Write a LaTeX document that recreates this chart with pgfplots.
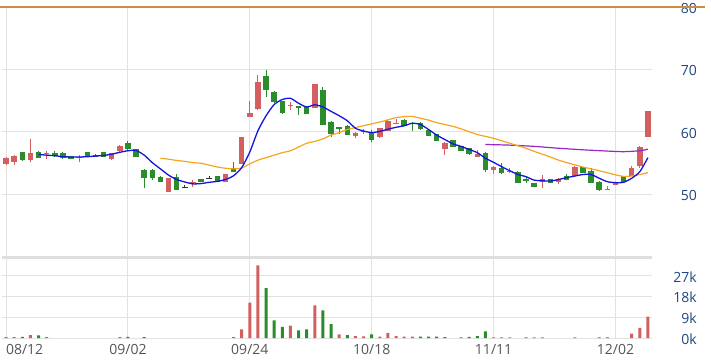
\documentclass[border=0pt]{standalone}
\usepackage{pgfplots}
\pgfplotsset{compat=1.18}
\usepackage{pgfplotstable}
\usepackage{fontspec}
\setmainfont{Open Sans}
\definecolor{upc}{RGB}{211,96,96}
\definecolor{dnc}{RGB}{42,140,42}
\definecolor{gridc}{RGB}{226,226,226}
\definecolor{sepc}{RGB}{222,222,222}
\definecolor{ma5}{RGB}{20,20,220}
\definecolor{ma20}{RGB}{245,165,30}
\definecolor{ma60}{RGB}{150,40,200}
\definecolor{topc}{RGB}{205,140,70}
\definecolor{ylab}{RGB}{30,70,130}
\definecolor{xlab}{RGB}{85,85,85}

\pgfplotstableread{
i o h l c
0 54.8 56.0 54.7 55.9
1 55.2 56.3 54.7 56.2
3 55.5 58.8 55.2 56.6
5 56.45 57.0 55.7 56.6
9 55.8 56.3 55.2 55.95
13 55.6 56.7 55.5 56.6
14 56.9 57.9 56.85 57.8
20 50.45 52.65 50.4 52.6
23 51.8 52.4 51.2 51.95
27 52.05 53.35 52.0 53.3
29 54.9 59.2 54.85 59.15
30 62.45 65.0 62.4 63.0
31 63.6 69.1 63.55 68.05
35 64.2 64.8 63.5 64.35
38 63.85 67.75 63.8 67.7
43 59.35 59.95 59.0 59.9
44 59.95 60.5 59.6 60.1
46 59.15 60.65 59.1 60.6
47 60.2 61.85 60.15 61.8
48 61.3 62.1 61.3 61.45
54 57.3 58.35 56.3 58.3
58 56.05 57.1 56.0 56.4
60 53.9 54.5 53.3 54.45
62 53.55 54.3 53.5 53.8
66 51.95 53.1 51.0 52.5
68 51.95 52.7 51.7 52.5
70 52.95 54.5 52.9 54.45
74 50.7 51.4 50.65 50.95
75 51.5 52.0 51.45 51.95
77 52.95 54.6 52.9 54.2
78 54.6 57.7 54.2 57.65
79 59.25 63.4 59.2 63.35
}\upT

\pgfplotstableread{
i o h l c
2 56.75 56.8 55.4 55.5
4 56.8 56.9 55.8 55.85
6 56.6 57.0 56.0 56.1
7 56.7 56.75 55.75 55.8
8 56.1 56.15 55.7 55.75
10 56.75 56.8 56.0 56.05
11 56.35 56.4 56.0 56.05
12 56.8 56.85 55.95 56.0
15 58.2 58.6 57.15 57.2
16 57.2 57.25 56.0 56.05
17 53.9 54.0 51.0 52.6
18 53.9 54.0 52.3 52.6
19 52.85 52.9 52.0 52.05
21 52.85 53.3 50.65 50.7
24 52.5 52.55 52.0 52.05
26 52.95 53.0 51.95 52.0
28 54.0 55.25 53.6 53.65
32 68.95 69.9 65.65 66.7
33 66.45 66.5 64.7 64.75
34 64.95 65.0 62.8 63.0
36 64.15 64.2 62.7 63.9
37 64.05 64.1 62.85 62.9
39 66.7 67.25 61.05 61.1
40 61.65 61.7 59.25 59.7
41 60.75 60.8 59.7 60.55
42 61.0 61.05 59.45 59.5
45 60.05 60.3 58.45 58.7
49 61.9 62.0 60.95 61.0
50 61.5 61.55 60.2 61.35
51 61.5 61.55 60.35 60.4
52 60.3 60.35 59.3 59.35
53 59.7 59.75 58.55 58.6
55 58.7 58.75 57.6 57.65
56 57.75 57.8 56.95 57.0
57 57.4 57.45 56.35 56.4
59 56.7 56.75 53.65 53.9
61 54.2 55.0 53.35 53.4
63 53.65 53.7 51.85 51.9
64 52.45 52.8 51.9 52.2
65 51.8 51.85 51.2 51.25
67 52.5 52.55 51.85 51.9
69 52.95 53.3 52.25 52.3
71 54.35 54.4 53.45 53.5
72 53.8 54.3 51.85 51.9
73 52.05 52.1 50.6 50.8
76 52.95 53.0 52.0 52.05
}\dnT

\pgfplotstableread{
i o h l c
22 51.0 51.6 51.0 51.2
25 52.5 53.0 52.5 52.7
}\djT

\pgfplotstableread{
i v
0 0.4
1 0.4
3 1.2
5 0.4
14 0.4
28 0.4
29 3.8
30 15.4
31 31.6
35 5.4
38 14.2
41 1.6
43 0.8
44 0.7
46 0.6
47 2.2
48 0.8
49 0.6
50 0.6
60 0.3
61 0.3
62 0.3
65 0.3
66 0.3
70 0.3
77 1.9
78 4.4
79 9.3
}\upV

\pgfplotstableread{
i v
2 0.5
4 1.1
15 0.5
17 0.4
32 21.7
33 7.7
34 4.8
36 3.3
37 3.8
39 12.0
40 6.0
42 1.2
45 1.6
51 0.6
52 0.6
53 0.6
54 0.4
56 0.3
57 0.5
58 0.8
59 2.9
64 0.3
73 0.3
74 0.3
}\dnV

\begin{document}
\begin{tikzpicture}[x=1pt,y=1pt]
\useasboundingbox (0,0) rectangle (711,362);
\pgfplotsset{
  every axis/.append style={
    scale only axis, width=650pt,
    xmin=-0.5, xmax=79.5,
    axis line style={draw=none},
    major tick length=0pt,
    grid=major, grid style={gridc, line width=1pt},
    xtick={0,15,30,45,60,75},
    yticklabel pos=right,
    yticklabel style={anchor=east, xshift=45pt, yshift=-1pt, inner sep=0pt, font=\fontsize{14}{16}\selectfont, text=ylab},
    xticklabel style={font=\fontsize{14}{16}\selectfont, text=xlab, yshift=-3pt},
    clip=false,
  }
}
\begin{axis}[at={(2pt,105pt)}, anchor=south west, height=250pt,
  ymin=40, ymax=80, ytick={50,60,70,80}, yticklabels={50,60,70,80},
  xticklabels={}]
% separator and top line
\draw[sepc, line width=2pt] (axis cs:-0.5,40) -- (axis cs:79.5,40);
\draw[topc, line width=1.2pt] (axis cs:-0.74,80) -- (axis cs:86,80);
% wicks
\addplot[draw=none, mark=none, forget plot, error bars/.cd, y dir=plus, y explicit, error mark=none,
  error bar style={draw=upc, line width=1pt}]
  table[x=i, y=l, y error plus expr={\thisrow{h}-\thisrow{l}}] {\upT};
\addplot[draw=none, mark=none, forget plot, error bars/.cd, y dir=plus, y explicit, error mark=none,
  error bar style={draw=dnc, line width=1pt}]
  table[x=i, y=l, y error plus expr={\thisrow{h}-\thisrow{l}}] {\dnT};
\addplot[draw=none, mark=none, forget plot, error bars/.cd, y dir=plus, y explicit, error mark=none,
  error bar style={draw=black!80, line width=1pt}]
  table[x=i, y=l, y error plus expr={\thisrow{h}-\thisrow{l}}] {\djT};
% bodies
\addplot[draw=none, mark=none, forget plot, error bars/.cd, y dir=plus, y explicit, error mark=none,
  error bar style={draw=upc, line width=5.5pt}]
  table[x=i, y=o, y error plus expr={\thisrow{c}-\thisrow{o}}] {\upT};
\addplot[draw=none, mark=none, forget plot, error bars/.cd, y dir=plus, y explicit, error mark=none,
  error bar style={draw=dnc, line width=5.5pt}]
  table[x=i, y=c, y error plus expr={\thisrow{o}-\thisrow{c}}] {\dnT};
\addplot[draw=none, mark=none, forget plot, error bars/.cd, y dir=plus, y explicit, error mark=none,
  error bar style={draw=black!80, line width=5.5pt}]
  table[x=i, y=o, y error plus expr={\thisrow{c}-\thisrow{o}}] {\djT};
% MA60
\addplot[ma60, line width=1.2pt, smooth, tension=0.4, mark=none] coordinates {
(59,58.0) (62,57.9) (65,57.7) (68,57.4) (71,57.15) (74,56.95) (76,56.85) (78,57.0) (79,57.25)};
% MA20
\addplot[ma20, line width=1.2pt, smooth, tension=0.4, mark=none] coordinates {
(19,55.8) (20,55.65) (21,55.45) (22,55.3) (23,55.1) (24,55.0) (25,54.7) (26,54.4) (27,54.2) (28,54.1)
(29,54.25) (30,54.9) (31,55.5) (32,55.9) (33,56.3) (34,56.7) (35,57.0) (36,57.6) (37,58.2) (38,58.5)
(39,58.9) (40,59.5) (41,59.9) (42,60.4) (43,60.7) (44,61.0) (45,61.3) (46,61.6) (47,61.95) (48,62.3)
(49,62.45) (50,62.5) (51,62.2) (52,61.9) (53,61.5) (54,61.2) (55,60.9) (56,60.5) (57,60.05) (58,59.6)
(59,59.3) (60,59.0) (61,58.6) (62,58.2) (63,57.8) (64,57.4) (65,56.9) (66,56.45) (67,56.0) (68,55.5)
(69,55.1) (70,54.75) (71,54.4) (72,54.1) (73,53.8) (74,53.5) (75,53.15) (76,52.9) (77,52.95) (78,53.2) (79,53.5)};
% MA5
\addplot[ma5, line width=1.3pt, smooth, tension=0.4, mark=none] coordinates {
(4,56.4) (5,56.3) (6,56.2) (7,56.05) (8,56.0) (9,56.0) (10,56.05) (11,56.15) (12,56.25) (13,56.45)
(14,56.75) (15,57.0) (16,57.05) (17,56.3) (18,55.1) (19,54.1) (20,53.1) (21,52.4) (22,52.0) (23,51.7)
(24,51.75) (25,51.95) (26,52.1) (27,52.4) (28,53.0) (29,54.3) (30,56.8) (31,60.2) (32,62.6) (33,64.4)
(34,65.2) (35,65.4) (36,64.6) (37,64.0) (38,64.35) (39,64.0) (40,63.3) (41,62.6) (42,61.8) (43,60.6)
(44,60.15) (45,59.9) (46,60.1) (47,60.45) (48,60.75) (49,61.0) (50,61.4) (51,61.2) (52,60.4) (53,59.5)
(54,58.8) (55,58.1) (56,57.7) (57,57.2) (58,56.7) (59,55.8) (60,55.15) (61,54.45) (62,53.8) (63,53.2)
(64,52.85) (65,52.3) (66,52.2) (67,52.15) (68,52.4) (69,52.7) (70,52.95) (71,53.2) (72,53.2) (73,52.6)
(74,52.05) (75,51.9) (76,51.95) (77,52.6) (78,53.65) (79,55.9)};
\end{axis}

\begin{axis}[at={(2pt,24pt)}, anchor=south west, height=80pt,
  ymin=0, ymax=34.8, ytick={0,9,18,27}, yticklabels={0k,9k,18k,27k},
  xticklabels={\makebox[0pt][l]{08/12},09/02,09/24,10/18,11/11,12/02}]
\draw[sepc, line width=2pt] (axis cs:-0.5,34.8) -- (axis cs:79.5,34.8);
\addplot[ybar, bar width=3pt, bar shift=0pt, fill=upc, draw=none] table[x=i, y=v] {\upV};
\addplot[ybar, bar width=3pt, bar shift=0pt, fill=dnc, draw=none] table[x=i, y=v] {\dnV};
\end{axis}
\end{tikzpicture}
\end{document}
